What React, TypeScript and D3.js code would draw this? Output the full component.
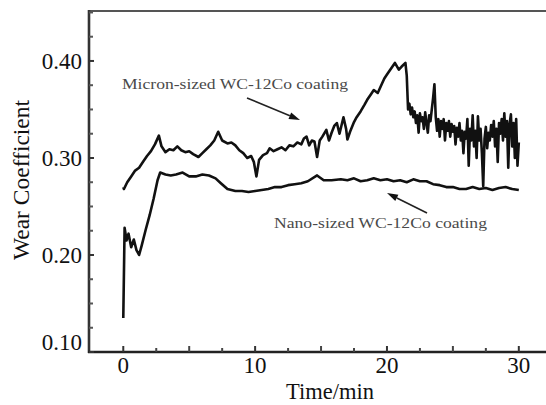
import React from "react";
import * as d3 from "d3";

// ---------- data ----------
const xMajorTicks = [0, 10, 20, 30];
const xMinorTicks = [2.5, 5, 7.5, 12.5, 15, 17.5, 22.5, 25, 27.5];
const yMajorTicks = [0.1, 0.2, 0.3, 0.4];
const yMinorTicks = [0.125, 0.15, 0.175, 0.225, 0.25, 0.275, 0.325, 0.35, 0.375, 0.425, 0.45];

const xTitle = "Time/min";
const yTitle = "Wear Coefficient";
const microLabel = "Micron-sized WC-12Co coating";
const nanoLabel = "Nano-sized WC-12Co coating";

// Micron-sized coating: [time (min), wear coefficient]
const microSeries: [number, number][] = [
  [0, 0.27], [0.05, 0.268], [0.3, 0.275], [0.6, 0.281], [0.9, 0.287], [1.2, 0.29],
  [1.5, 0.296], [1.8, 0.302], [2.1, 0.307], [2.4, 0.314], [2.7, 0.323], [2.9, 0.312],
  [3.2, 0.306], [3.5, 0.309], [3.8, 0.308], [4.1, 0.312], [4.4, 0.308], [4.7, 0.306],
  [5.0, 0.307], [5.3, 0.304], [5.7, 0.301], [6.0, 0.305], [6.3, 0.309], [6.6, 0.313],
  [6.9, 0.318], [7.2, 0.327], [7.5, 0.318], [7.9, 0.315], [8.2, 0.316], [8.5, 0.313],
  [8.8, 0.308], [9.1, 0.305], [9.4, 0.3], [9.7, 0.302], [9.9, 0.296], [10.1, 0.281],
  [10.3, 0.298], [10.6, 0.303], [10.9, 0.305], [11.1, 0.31], [11.4, 0.307], [11.7, 0.309],
  [12.0, 0.311], [12.3, 0.308], [12.6, 0.313], [12.9, 0.312], [13.2, 0.316], [13.5, 0.314],
  [13.7, 0.32], [13.9, 0.322], [14.1, 0.313], [14.3, 0.318], [14.5, 0.317], [14.7, 0.301],
  [14.9, 0.318], [15.1, 0.322], [15.4, 0.329], [15.6, 0.318], [15.8, 0.326], [16.0, 0.333],
  [16.2, 0.336], [16.4, 0.325], [16.7, 0.342], [16.9, 0.33], [17.0, 0.319], [17.2, 0.327],
  [17.5, 0.337], [17.7, 0.342], [18.0, 0.348], [18.3, 0.355], [18.5, 0.36], [18.8, 0.366],
  [19.0, 0.37], [19.3, 0.367], [19.6, 0.376], [19.8, 0.382], [20.0, 0.386], [20.3, 0.392],
  [20.6, 0.398], [20.9, 0.391], [21.1, 0.394], [21.4, 0.398],
  [21.5, 0.385], [21.6, 0.35], [21.7, 0.356], [21.8, 0.345], [21.9, 0.352], [22.0, 0.342],
  [22.1, 0.348], [22.2, 0.336], [22.3, 0.344], [22.4, 0.326], [22.5, 0.346], [22.6, 0.338],
  [22.7, 0.342], [22.8, 0.33], [22.9, 0.347], [23.0, 0.336], [23.1, 0.326], [23.2, 0.344],
  [23.3, 0.338], [23.4, 0.35], [23.5, 0.362], [23.6, 0.376], [23.7, 0.342], [23.8, 0.328],
  [23.9, 0.34], [24.0, 0.322], [24.1, 0.338], [24.2, 0.33], [24.3, 0.34], [24.4, 0.318],
  [24.5, 0.336], [24.6, 0.328], [24.7, 0.338], [24.8, 0.322], [24.9, 0.335], [25.0, 0.327],
  [25.1, 0.333], [25.2, 0.314], [25.3, 0.331], [25.4, 0.322], [25.5, 0.336], [25.6, 0.318],
  [25.7, 0.328], [25.8, 0.305], [25.9, 0.327], [26.0, 0.32], [26.1, 0.34], [26.2, 0.292],
  [26.3, 0.33], [26.4, 0.318], [26.5, 0.344], [26.6, 0.312], [26.7, 0.328], [26.8, 0.3],
  [26.9, 0.343], [27.0, 0.318], [27.1, 0.33], [27.2, 0.305], [27.3, 0.271], [27.4, 0.32],
  [27.5, 0.332], [27.6, 0.31], [27.7, 0.326], [27.8, 0.318], [27.9, 0.334], [28.0, 0.322],
  [28.1, 0.338], [28.2, 0.312], [28.3, 0.33], [28.4, 0.296], [28.5, 0.336], [28.6, 0.325],
  [28.7, 0.34], [28.8, 0.318], [28.9, 0.346], [29.0, 0.322], [29.1, 0.338], [29.2, 0.29],
  [29.3, 0.335], [29.4, 0.345], [29.5, 0.312], [29.6, 0.336], [29.7, 0.3], [29.8, 0.34],
  [29.9, 0.292], [30.0, 0.316],
];

// Nano-sized coating: [time (min), wear coefficient]
const nanoSeries: [number, number][] = [
  [0, 0.135], [0.1, 0.228], [0.25, 0.215], [0.4, 0.222], [0.6, 0.208], [0.8, 0.216],
  [1.0, 0.205], [1.2, 0.2], [1.4, 0.21], [1.7, 0.226], [2.0, 0.241], [2.3, 0.258],
  [2.6, 0.277], [2.8, 0.285], [3.2, 0.283], [3.6, 0.282], [4.0, 0.283], [4.5, 0.285],
  [5.0, 0.281], [5.5, 0.281], [6.0, 0.283], [6.5, 0.282], [7.0, 0.279], [7.4, 0.274],
  [7.9, 0.268], [8.5, 0.266], [9.0, 0.266], [9.5, 0.265], [10.0, 0.266], [10.5, 0.267],
  [11.0, 0.268], [11.5, 0.27], [12.0, 0.27], [12.5, 0.272], [13.0, 0.273], [13.5, 0.274],
  [14.0, 0.276], [14.7, 0.282], [15.2, 0.277], [15.8, 0.277], [16.5, 0.278], [17.0, 0.277],
  [17.5, 0.279], [18.0, 0.276], [18.5, 0.277], [19.0, 0.279], [19.5, 0.277], [20.0, 0.278],
  [20.5, 0.276], [21.0, 0.277], [21.5, 0.275], [22.0, 0.278], [22.5, 0.276], [23.0, 0.276],
  [23.5, 0.273], [24.0, 0.272], [24.5, 0.27], [25.0, 0.27], [25.5, 0.268], [26.0, 0.268],
  [26.5, 0.27], [27.0, 0.268], [27.5, 0.269], [28.0, 0.267], [28.5, 0.269], [29.0, 0.27],
  [29.5, 0.268], [30.0, 0.267],
];

// ---------- layout ----------
const W = 546;
const H = 405;
const FONT = "'Liberation Serif', 'Times New Roman', serif";

const x = d3.scaleLinear().domain([-2.6, 32.1]).range([89, 546.5]);
const y = d3.scaleLinear().domain([0.1, 0.4515]).range([352, 11]);

export default function App() {
  const line = d3
    .line<[number, number]>()
    .x((d) => x(d[0]))
    .y((d) => y(d[1]))
    .curve(d3.curveLinear);

  const left = x.range()[0];
  const right = W + 2;
  const top = y.range()[1];
  const bottom = y.range()[0];

  const arrow = (x1: number, y1: number, x2: number, y2: number) => {
    const ang = Math.atan2(y2 - y1, x2 - x1);
    const len = 11;
    const wid = 3.5;
    const bx = x2 - len * Math.cos(ang);
    const by = y2 - len * Math.sin(ang);
    const px = -Math.sin(ang) * wid;
    const py = Math.cos(ang) * wid;
    return (
      <g>
        <line x1={x1} y1={y1} x2={bx} y2={by} stroke="#222" strokeWidth={1.6} />
        <polygon
          points={`${x2},${y2} ${bx + px},${by + py} ${bx - px},${by - py}`}
          fill="#111"
        />
      </g>
    );
  };

  return (
    <svg
      width={W}
      height={H}
      style={{ position: "absolute", left: 0, top: 0, background: "#fff" }}
      fontFamily={FONT}
    >
      <rect x={0} y={0} width={W} height={H} fill="#fff" />

      {/* data lines */}
      <path
        d={line(nanoSeries) || ""}
        fill="none"
        stroke="#111"
        strokeWidth={2.6}
        strokeLinejoin="round"
      />
      <path
        d={line(microSeries) || ""}
        fill="none"
        stroke="#111"
        strokeWidth={2.6}
        strokeLinejoin="round"
      />

      {/* frame */}
      <line x1={left} y1={top} x2={right} y2={top} stroke="#555" strokeWidth={2.2} />
      <line x1={left} y1={top - 1} x2={left} y2={bottom + 1} stroke="#333" strokeWidth={2.6} />
      <line x1={left - 1} y1={bottom} x2={right} y2={bottom} stroke="#222" strokeWidth={2.6} />

      {/* x ticks */}
      {xMajorTicks.map((t) => (
        <g key={"xM" + t}>
          <line x1={x(t)} x2={x(t)} y1={bottom} y2={bottom - 6} stroke="#333" strokeWidth={2} />
          <text x={x(t)} y={373} fontSize={23} textAnchor="middle" fill="#111">
            {t}
          </text>
        </g>
      ))}
      {xMinorTicks.map((t) => (
        <line
          key={"xm" + t}
          x1={x(t)}
          x2={x(t)}
          y1={bottom}
          y2={bottom - (t % 5 === 0 ? 6 : 4)}
          stroke="#444"
          strokeWidth={2}
        />
      ))}

      {/* y ticks */}
      {yMajorTicks.map((v) => (
        <g key={"yM" + v}>
          <line x1={left} x2={left + 5} y1={y(v)} y2={y(v)} stroke="#333" strokeWidth={2} />
          <text
            x={82}
            y={Math.min(y(v), bottom - 10)}
            dy="0.34em"
            fontSize={23}
            textAnchor="end"
            fill="#111"
          >
            {v.toFixed(2)}
          </text>
        </g>
      ))}
      {yMinorTicks.map((v) => (
        <line key={"ym" + v} x1={left} x2={left + 4} y1={y(v)} y2={y(v)} stroke="#555" strokeWidth={2} />
      ))}

      {/* axis titles */}
      <text x={330} y={399} fontSize={22.5} textAnchor="middle" fill="#111">
        {xTitle}
      </text>
      <text
        transform={`translate(29, 180) rotate(-90)`}
        fontSize={23.5}
        textAnchor="middle"
        fill="#111"
      >
        {yTitle}
      </text>

      {/* annotations */}
      <text
        x={122}
        y={89}
        fontSize={15}
        fill="#4a4a4a"
        textLength={226}
        lengthAdjust="spacingAndGlyphs"
      >
        {microLabel}
      </text>
      {arrow(247, 98, 300, 120)}

      <text
        x={274}
        y={228}
        fontSize={15}
        fill="#4a4a4a"
        textLength={213}
        lengthAdjust="spacingAndGlyphs"
      >
        {nanoLabel}
      </text>
      {arrow(427, 213, 387, 193)}
    </svg>
  );
}
